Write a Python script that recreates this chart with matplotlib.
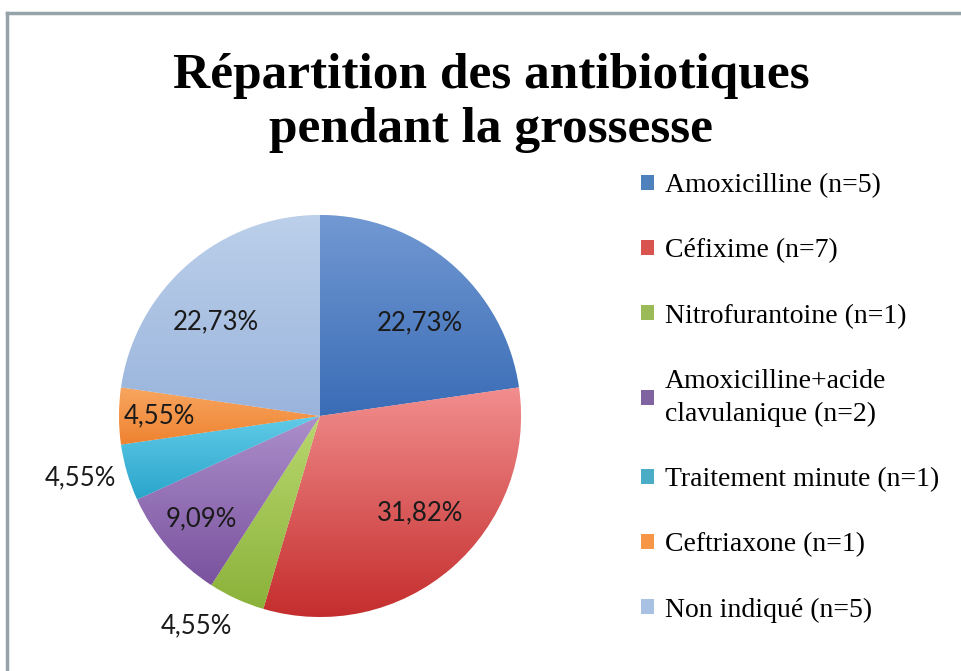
import matplotlib
matplotlib.use("Agg")
import matplotlib.pyplot as plt
import matplotlib.patches as mpatches
from matplotlib.colors import LinearSegmentedColormap
import numpy as np

labels = [
    "Amoxicilline (n=5)",
    "Céfixime (n=7)",
    "Nitrofurantoine (n=1)",
    "Amoxicilline+acide\nclavulanique (n=2)",
    "Traitement minute (n=1)",
    "Ceftriaxone (n=1)",
    "Non indiqué (n=5)",
]
counts = [5, 7, 1, 2, 1, 1, 5]

# light (top) / dark (bottom) colour of each slice gradient
light_colors = ["#7299d2", "#f28e8e", "#b9d76f", "#ac8fcb", "#62cbe8", "#f8a660", "#bcd0ea"]
dark_colors = ["#3a6cb6", "#c42c2c", "#8bb23a", "#7a529e", "#2aa5cb", "#ee8230", "#9ab4dc"]
mid_colors = ["#4f81bd", "#d9534f", "#9bbb59", "#8064a2", "#4bacc6", "#f79646", "#a9c1e2"]

# placement of each percentage label: fraction of radius, angle shift (deg)
label_dist = [0.68, 0.69, 1.21, 0.78, 1.23, 0.80, 0.70]
label_shift = [-6, 5, -6, 0, -2, 0, 7]

fig = plt.figure(figsize=(9.61, 6.71), dpi=100)
fig.patch.set_facecolor("white")

# grey frame lines (top and left) like the original screenshot
fig.add_artist(plt.Line2D([7 / 961, 7 / 961], [0, 1 - 13 / 671], color="#96a3a8", lw=2.5))
fig.add_artist(plt.Line2D([7 / 961, 1], [1 - 13 / 671, 1 - 13 / 671], color="#96a3a8", lw=2.5))

fig.text(491 / 961, 1 - 103 / 671, "Répartition des antibiotiques\npendant la grossesse",
         ha="center", va="center", fontsize=37, fontweight="bold",
         family="Liberation Serif", linespacing=1.22)

ax = fig.add_axes([119 / 961, 1 - 617 / 671, 402 / 961, 402 / 671])

wedges, _ = ax.pie(counts, startangle=90, counterclock=False, colors=mid_colors,
                   radius=1, wedgeprops=dict(edgecolor="white", linewidth=0.6))

total = sum(counts)
grad = np.linspace(0, 1, 256).reshape(-1, 1)
for i, w in enumerate(wedges):
    verts = w.get_path().vertices
    x0, x1 = verts[:, 0].min(), verts[:, 0].max()
    y0, y1 = verts[:, 1].min(), verts[:, 1].max()
    cmap = LinearSegmentedColormap.from_list("g%d" % i, [light_colors[i], dark_colors[i]])
    im = ax.imshow(grad, cmap=cmap, extent=[x0, x1, y0, y1], origin="upper",
                   aspect="auto", zorder=1.5, interpolation="bilinear")
    im.set_clip_path(w)

    theta = np.deg2rad((w.theta1 + w.theta2) / 2 + label_shift[i])
    r = label_dist[i]
    pct = 100 * counts[i] / total
    ax.text(r * np.cos(theta), r * np.sin(theta), f"{pct:.2f}%".replace(".", ","),
            ha="center", va="center", fontsize=18.5, family="Lato", color="#1a1a1a",
            zorder=3, clip_on=False)

ax.set_xlim(-1.0, 1.0)
ax.set_ylim(-1.0, 1.0)
ax.set_aspect("equal")
ax.axis("off")

handles = [mpatches.Patch(facecolor=c) for c in mid_colors]
leg = fig.legend(handles, labels, loc="upper left", bbox_to_anchor=(616 / 961, 1 - 148 / 671),
                 frameon=False, handlelength=0.45, handleheight=0.45, handletextpad=0.4,
                 labelspacing=1.45, prop=dict(family="Liberation Serif", size=20))
for t in leg.get_texts():
    t.set_linespacing(1.4)

fig.savefig("out.png", dpi=100, facecolor="white")
